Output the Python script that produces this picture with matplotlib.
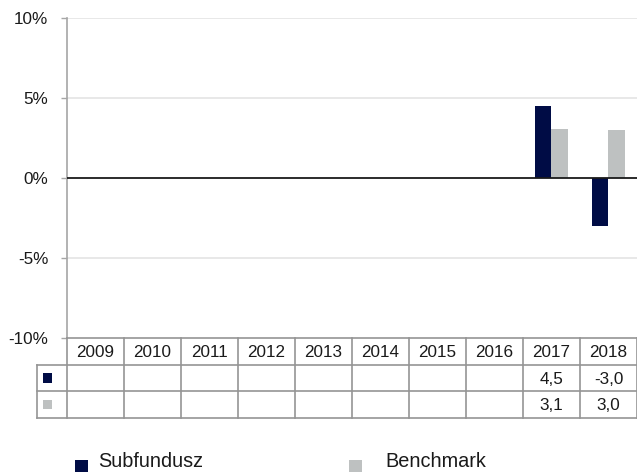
import matplotlib
matplotlib.use("Agg")
import matplotlib.pyplot as plt
from matplotlib.patches import Rectangle
from matplotlib.lines import Line2D
from matplotlib.transforms import blended_transform_factory

plt.rcParams['font.family'] = ['Liberation Sans', 'DejaVu Sans']

years = ['2009', '2010', '2011', '2012', '2013', '2014', '2015', '2016', '2017', '2018']
subfundusz = [None, None, None, None, None, None, None, None, 4.5, -3.0]
benchmark = [None, None, None, None, None, None, None, None, 3.1, 3.0]
series_names = ['Subfundusz', 'Benchmark']
y_ticks = [-10, -5, 0, 5, 10]

C_SUB = '#000c45'
C_BEN = '#bec1c1'
LINE = '#959595'

W, H = 637, 472
fig = plt.figure(figsize=(W / 100, H / 100), dpi=100)

def fx(px):
    return px / W

def fy(py):
    return 1 - py / H

ax_top, ax_bot, ax_left = 18.3, 338.3, 66.5
ax = fig.add_axes([fx(ax_left), fy(ax_bot), 1 - fx(ax_left), fy(ax_top) - fy(ax_bot)])

n = len(years)
xs = list(range(n))
bw = 0.29
for i in xs:
    if subfundusz[i] is not None:
        ax.bar(i - bw / 2, subfundusz[i], width=bw, color=C_SUB, zorder=3)
    if benchmark[i] is not None:
        ax.bar(i + bw / 2, benchmark[i], width=bw, color=C_BEN, zorder=3)

ax.set_xlim(-0.5, n - 0.5)
ax.set_ylim(-10, 10)
ax.set_yticks(y_ticks)
ax.set_yticklabels([f'{t}%' for t in y_ticks])
ax.set_xticks([])
for t in [10, 5, -5]:
    ax.axhline(t, color='#e6e6e6', lw=1.3, zorder=1)
ax.axhline(0, color='#1a1a1a', lw=1.3, zorder=4)

for s in ['top', 'right', 'bottom']:
    ax.spines[s].set_visible(False)
ax.spines['left'].set_color('#a6a6a6')
ax.spines['left'].set_linewidth(1.2)
ax.tick_params(axis='y', length=4, width=1, color='#a6a6a6', pad=9,
               labelsize=12.3, labelcolor='#1a1a1a')

# ---- data table below the axes ----
tr = blended_transform_factory(ax.transData, fig.transFigure)
row_y = [338.3, 364.5, 391.0, 417.5]
table_left = 37.3
lw = 1.2

def hline_fig(x0px, y):
    fig.add_artist(Line2D([fx(x0px), 1.0], [fy(y), fy(y)], color=LINE, lw=lw))

fig.add_artist(Line2D([-0.5, n - 0.5], [fy(row_y[0])] * 2, transform=tr, color=LINE, lw=lw, clip_on=False))
for y in row_y[1:]:
    hline_fig(table_left, y)
for k in range(n + 1):
    fig.add_artist(Line2D([k - 0.5, k - 0.5], [fy(row_y[0]), fy(row_y[3])], transform=tr,
                          color=LINE, lw=lw, clip_on=False))
fig.add_artist(Line2D([fx(table_left)] * 2, [fy(row_y[1]), fy(row_y[3])], color=LINE, lw=lw))

def fmt(v):
    return '' if v is None else f'{v:.1f}'.replace('.', ',')

fs_tab = 12.3
for i, yr in enumerate(years):
    fig.text(i, fy((row_y[0] + row_y[1]) / 2 + 1.5), yr, transform=tr, ha='center', va='center',
             fontsize=fs_tab, color='#1a1a1a')
    fig.text(i, fy((row_y[1] + row_y[2]) / 2 + 1.5), fmt(subfundusz[i]), transform=tr, ha='center',
             va='center', fontsize=fs_tab, color='#1a1a1a')
    fig.text(i, fy((row_y[2] + row_y[3]) / 2 + 1.5), fmt(benchmark[i]), transform=tr, ha='center',
             va='center', fontsize=fs_tab, color='#1a1a1a')

for r, c in enumerate([C_SUB, C_BEN]):
    cy = (row_y[r + 1] + row_y[r + 2]) / 2
    sz = 9.5
    fig.add_artist(Rectangle((fx(47.7 - sz / 2), fy(cy + sz / 2)), sz / W, sz / H, color=c, lw=0))

# ---- legend ----
leg_items = [(75, 98, C_SUB, series_names[0]), (349, 385, C_BEN, series_names[1])]
for sx, tx, c, name in leg_items:
    sz = 12.5
    fig.add_artist(Rectangle((fx(sx), fy(459.5 + sz)), sz / W, sz / H, color=c, lw=0))
    fig.text(fx(tx), fy(467), name, ha='left', va='baseline', fontsize=14.3, color='#1a1a1a')

fig.savefig('out.png', dpi=100)
